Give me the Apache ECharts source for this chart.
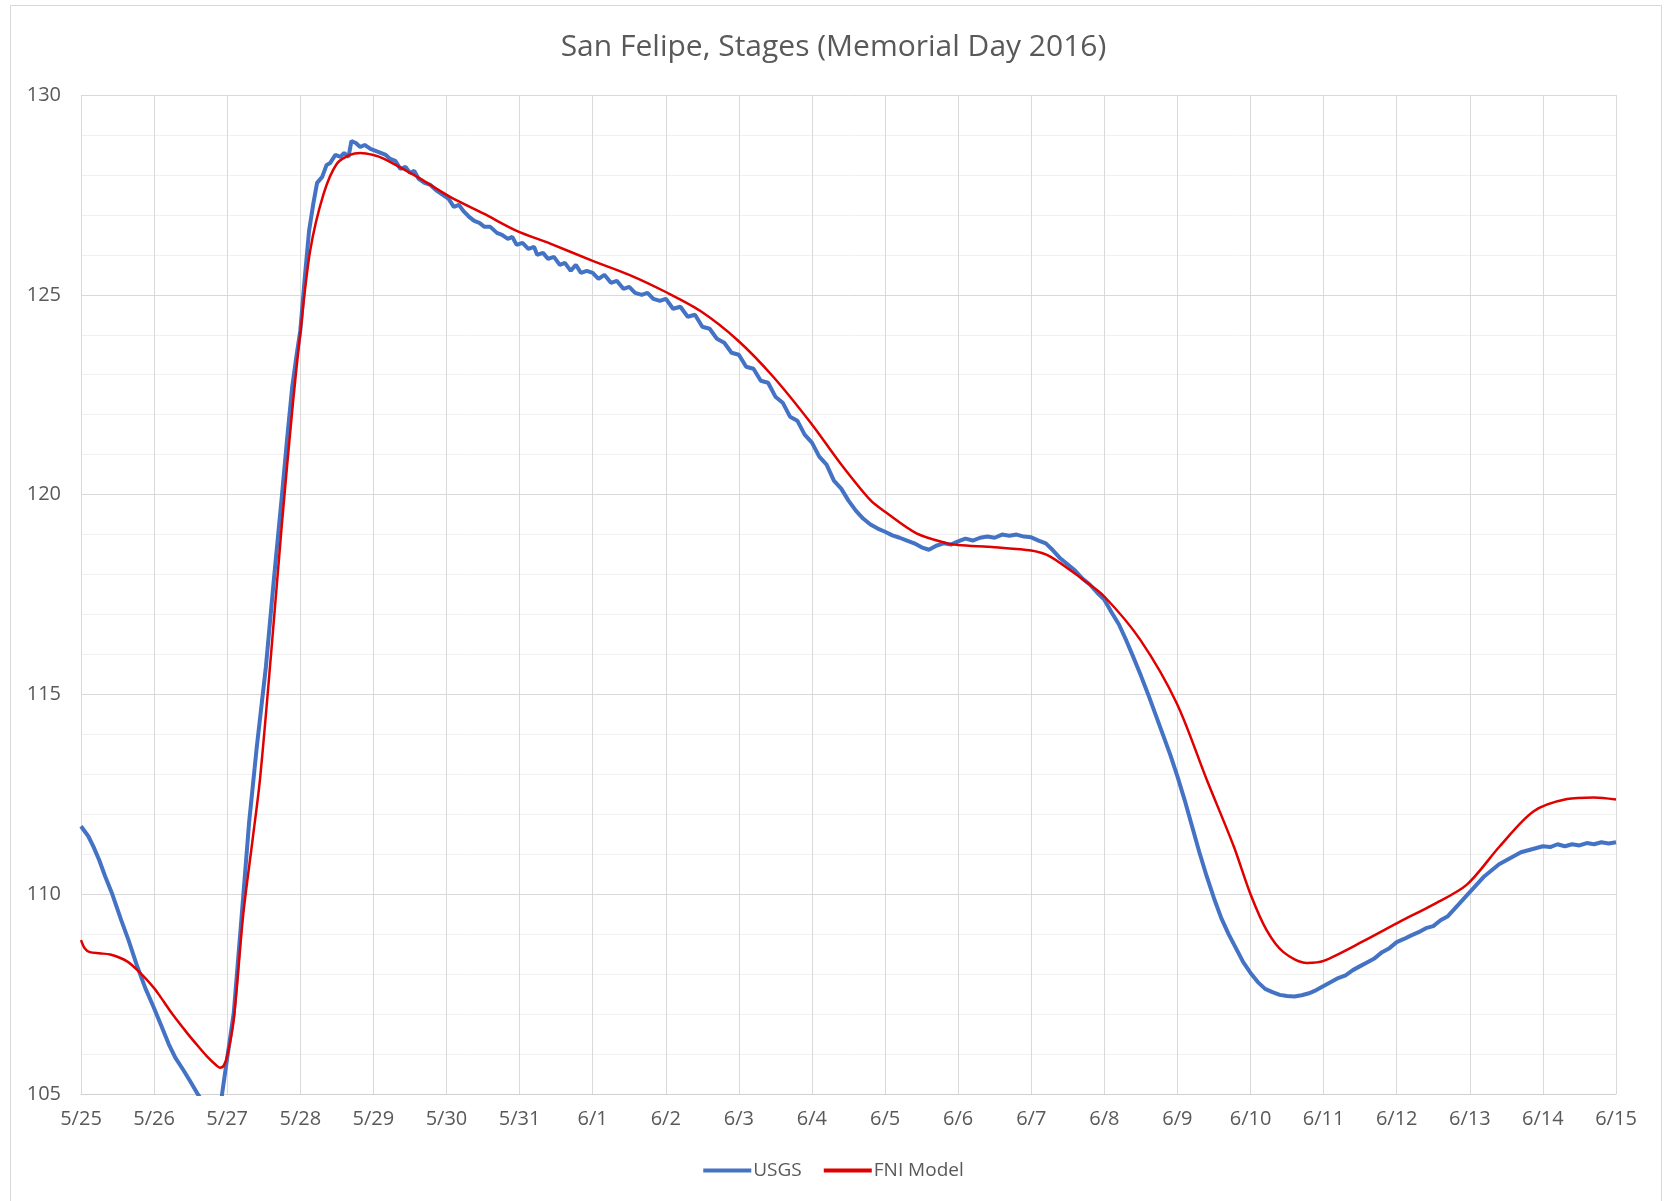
<!DOCTYPE html>
<html>
<head>
<meta charset="utf-8">
<title>San Felipe, Stages</title>
<script src="https://cdn.jsdelivr.net/npm/echarts@6/dist/echarts.min.js"></script>
<style>
  html, body { margin: 0; padding: 0; background: #fff; }
  #chart { width: 1667px; height: 1201px; }
</style>
</head>
<body>
<div id="chart"></div>
<script>
// x values are days after 5/25
const dateLabels = ['5/25', '5/26', '5/27', '5/28', '5/29', '5/30', '5/31', '6/1', '6/2', '6/3', '6/4',
  '6/5', '6/6', '6/7', '6/8', '6/9', '6/10', '6/11', '6/12', '6/13', '6/14', '6/15'];

// USGS gauge readings
const usgsDays = [0.00, 0.10, 0.17, 0.25, 0.33, 0.43, 0.55, 0.65, 0.77, 0.88, 0.99, 1.10, 1.20, 1.29, 1.40,
  1.50, 1.60, 1.72, 1.83, 1.90, 1.93, 2.00, 2.09, 2.20, 2.30, 2.40, 2.53, 2.64, 2.75, 2.82, 2.89, 2.95,
  3.00, 3.06, 3.12, 3.18, 3.23, 3.30, 3.36, 3.41, 3.48, 3.55, 3.60, 3.66, 3.70, 3.76, 3.82, 3.88, 3.96,
  4.03, 4.10, 4.17, 4.23, 4.30, 4.37, 4.44, 4.50, 4.56, 4.62, 4.70, 4.78, 4.87, 4.95, 5.03, 5.10, 5.17,
  5.23, 5.31, 5.38, 5.45, 5.52, 5.60, 5.69, 5.76, 5.84, 5.90, 5.96, 6.04, 6.12, 6.20, 6.24, 6.32, 6.39,
  6.47, 6.55, 6.62, 6.70, 6.77, 6.84, 6.92, 7.00, 7.08, 7.16, 7.25, 7.33, 7.42, 7.50, 7.58, 7.67, 7.75,
  7.83, 7.92, 8.00, 8.10, 8.20, 8.30, 8.40, 8.50, 8.60, 8.70, 8.80, 8.90, 9.00, 9.10, 9.20, 9.30, 9.40,
  9.50, 9.60, 9.70, 9.80, 9.90, 10.00, 10.10, 10.20, 10.30, 10.40, 10.50, 10.60, 10.70, 10.80, 10.90,
  11.00, 11.10, 11.20, 11.30, 11.40, 11.50, 11.60, 11.70, 11.80, 11.90, 12.00, 12.10, 12.20, 12.30,
  12.40, 12.50, 12.60, 12.70, 12.80, 12.90, 13.00, 13.10, 13.20, 13.30, 13.40, 13.50, 13.60, 13.70,
  13.80, 13.90, 14.00, 14.10, 14.20, 14.30, 14.40, 14.50, 14.60, 14.70, 14.80, 14.90, 15.00, 15.10,
  15.20, 15.30, 15.40, 15.50, 15.60, 15.70, 15.80, 15.90, 16.00, 16.10, 16.20, 16.30, 16.40, 16.50,
  16.60, 16.70, 16.80, 16.90, 17.00, 17.10, 17.20, 17.30, 17.40, 17.50, 17.60, 17.70, 17.80, 17.90,
  18.00, 18.10, 18.20, 18.30, 18.40, 18.50, 18.60, 18.70, 18.80, 18.90, 19.00, 19.10, 19.20, 19.30,
  19.40, 19.50, 19.60, 19.70, 19.80, 19.90, 20.00, 20.10, 20.20, 20.30, 20.40, 20.50, 20.60, 20.70,
  20.80, 20.90, 21.00];
const usgsStage = [111.70, 111.45, 111.19, 110.85, 110.45, 109.99, 109.35, 108.85, 108.19, 107.65, 107.19,
  106.70, 106.25, 105.91, 105.60, 105.30, 104.99, 104.65, 104.40, 104.30, 105.00, 105.90, 107.03, 109.50,
  111.80, 113.60, 115.70, 117.90, 120.00, 121.40, 122.70, 123.50,
  124.10, 125.40, 126.60, 127.30, 127.80, 127.95, 128.25, 128.30, 128.50, 128.45, 128.55, 128.45, 128.85,
  128.80, 128.70, 128.75, 128.65, 128.60, 128.55, 128.50, 128.40, 128.35, 128.15, 128.20, 128.05, 128.10,
  127.90, 127.80, 127.75, 127.60, 127.50, 127.40, 127.20, 127.25, 127.10, 126.95, 126.85, 126.80, 126.70,
  126.70, 126.55, 126.50, 126.40, 126.45, 126.25, 126.30, 126.15, 126.20, 126.00, 126.05, 125.90, 125.95,
  125.75, 125.80, 125.60, 125.75, 125.55, 125.60, 125.55, 125.40, 125.50, 125.30, 125.35, 125.15, 125.20,
  125.05, 125.00, 125.05, 124.90, 124.85, 124.90, 124.65, 124.70, 124.45, 124.50, 124.20, 124.15, 123.90,
  123.80, 123.55, 123.50, 123.20, 123.15, 122.85, 122.80, 122.45, 122.30, 121.95, 121.85, 121.50, 121.30,
  120.95, 120.75, 120.35, 120.15, 119.85, 119.60, 119.40, 119.25, 119.15, 119.07, 118.98, 118.92, 118.85,
  118.78, 118.68, 118.62, 118.72, 118.78, 118.75, 118.83, 118.90, 118.85, 118.92, 118.95, 118.92, 119.00,
  118.97, 119.00, 118.95, 118.93, 118.85, 118.78, 118.60, 118.40, 118.25, 118.10, 117.90, 117.75, 117.55,
  117.37, 117.05, 116.75, 116.35, 115.92, 115.47, 115.00, 114.50, 114.00, 113.50, 112.95, 112.35, 111.70,
  111.05, 110.45, 109.90, 109.40, 109.00, 108.65, 108.30, 108.03, 107.80, 107.63, 107.55, 107.48, 107.45,
  107.44, 107.47, 107.52, 107.60, 107.70, 107.80, 107.90, 107.97, 108.10, 108.20, 108.30, 108.40, 108.55,
  108.65, 108.80, 108.88, 108.97, 109.05, 109.15, 109.20, 109.35, 109.45, 109.65, 109.85, 110.05, 110.25,
  110.45, 110.60, 110.75, 110.85, 110.95, 111.05, 111.10, 111.15, 111.20, 111.18, 111.25, 111.20, 111.25,
  111.22, 111.28, 111.25, 111.30, 111.27, 111.30];

// FNI model output
const fniDays = [0.00, 0.05, 0.12, 0.25, 0.40, 0.63, 0.81, 1.00, 1.08, 1.25, 1.45, 1.60, 1.72, 1.85, 1.90,
  1.95, 2.00, 2.09, 2.22, 2.35, 2.45, 2.60, 2.75, 2.90, 3.00, 3.135, 3.32, 3.50, 3.68, 3.82, 4.00, 4.14,
  4.60, 5.05, 5.51, 5.96, 6.42, 7.00, 7.50, 8.00, 8.47, 8.98, 9.47, 9.99, 10.39, 10.80, 11.00, 11.43,
  11.85, 12.00, 12.50, 13.00, 13.26, 13.71, 14.00, 14.49, 14.99, 15.40, 15.77, 16.00, 16.22, 16.45,
  16.77, 17.00, 17.59, 18.05, 18.50, 18.96, 19.41, 19.87, 20.33, 20.70, 21.00];
const fniStage = [108.85, 108.65, 108.55, 108.52, 108.49, 108.32, 108.03, 107.65, 107.45, 107.00, 106.53,
  106.20, 105.95, 105.72, 105.66, 105.70, 105.95, 106.87, 109.50, 111.40, 112.90, 116.00, 119.30, 122.30,
  124.04, 126.10, 127.53, 128.28, 128.50, 128.55, 128.50, 128.41, 127.95, 127.45, 127.03, 126.60, 126.28,
  125.85, 125.50, 125.07, 124.60, 123.87, 122.95, 121.78, 120.78, 119.86, 119.57, 119.03,
  118.78, 118.74, 118.68, 118.60, 118.45, 117.87, 117.45, 116.37, 114.78, 112.87, 111.20, 110.00, 109.10,
  108.55, 108.28, 108.33, 108.87, 109.32, 109.74, 110.24, 111.20, 112.07, 112.38, 112.42, 112.37];

const yTicks = { min: 105, max: 130, step: 5 };

const chart = echarts.init(document.getElementById('chart'), null, { renderer: 'canvas' });
const grey = '#595959';

const option = {
  backgroundColor: '#ffffff',
  animation: false,
  title: {
    text: 'San Felipe, Stages (Memorial Day 2016)',
    left: 'center',
    top: 27,
    textStyle: { fontFamily: 'Open Sans', fontSize: 30, fontWeight: 'normal', color: grey }
  },
  graphic: [{
    type: 'rect',
    shape: { x: 10.5, y: 5.5, width: 1651, height: 1220 },
    style: { fill: 'none', stroke: '#d9d9d9', lineWidth: 1 },
    silent: true
  }],
  legend: {
    bottom: 16,
    left: 'center',
    itemWidth: 48,
    itemHeight: 4,
    itemGap: 22,
    icon: 'rect',
    textStyle: { fontFamily: 'Open Sans', fontSize: 19, color: grey, padding: [0, 0, 0, -3] },
    data: ['USGS', 'FNI Model']
  },
  grid: { left: 81, right: 51, top: 95, bottom: 107, containLabel: false },
  xAxis: {
    type: 'value',
    min: 0,
    max: dateLabels.length - 1,
    interval: 1,
    axisLine: { show: true, lineStyle: { color: '#d0d0d0', width: 1 } },
    axisTick: { show: false },
    splitLine: { show: true, lineStyle: { color: '#d9d9d9', width: 1 } },
    axisLabel: {
      margin: 15,
      fontFamily: 'Open Sans',
      fontSize: 20,
      color: grey,
      formatter: v => dateLabels[Math.round(v)]
    }
  },
  yAxis: {
    type: 'value',
    min: yTicks.min,
    max: yTicks.max,
    interval: yTicks.step,
    axisLine: { show: false },
    axisTick: { show: false },
    splitLine: { show: true, lineStyle: { color: '#d9d9d9', width: 1 } },
    minorTick: { show: false, splitNumber: 5 },
    minorSplitLine: { show: true, lineStyle: { color: '#f0f0f0', width: 1 } },
    axisLabel: { margin: 20, fontFamily: 'Open Sans', fontSize: 20, color: grey }
  },
  series: [
    {
      name: 'USGS',
      type: 'line',
      data: usgsDays.map((d, i) => [d, usgsStage[i]]),
      showSymbol: false,
      clip: true,
      lineStyle: { color: '#4472c4', width: 4 },
      itemStyle: { color: '#4472c4' },
      z: 2
    },
    {
      name: 'FNI Model',
      type: 'line',
      data: fniDays.map((d, i) => [d, fniStage[i]]),
      showSymbol: false,
      smooth: 0.3,
      clip: true,
      lineStyle: { color: '#e00000', width: 2.5 },
      itemStyle: { color: '#e00000' },
      z: 3
    }
  ]
};

chart.setOption(option);
</script>
</body>
</html>
